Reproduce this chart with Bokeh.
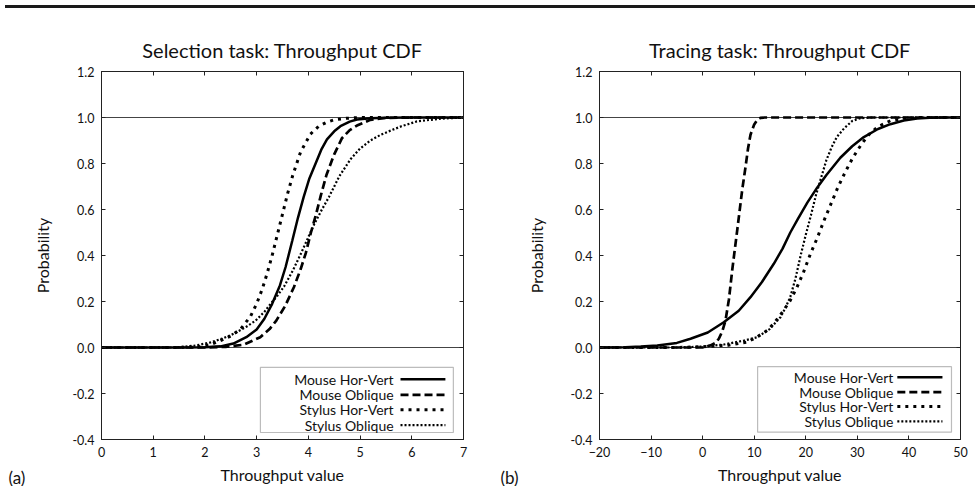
from bokeh.plotting import figure
from bokeh.models import Range1d, LinearAxis, FixedTicker, BoxAnnotation, Title, Div
from bokeh.layouts import row, column
from bokeh.embed import file_html
from bokeh.resources import INLINE
from bokeh.core.properties import value

FONT = "Lato"

series_names = ["Mouse Hor-Vert", "Mouse Oblique", "Stylus Hor-Vert", "Stylus Oblique"]

y_ticks = [-0.4, -0.2, 0.0, 0.2, 0.4, 0.6, 0.8, 1.0, 1.2]
y_tick_labels = ["-0.4", "-0.2", "0.0", "0.2", "0.4", "0.6", "0.8", "1.0", "1.2"]

# ---------------- (a) Selection task ----------------
sel_title = "Selection task: Throughput CDF"
sel_xticks = [0, 1, 2, 3, 4, 5, 6, 7]

sel_mouse_hv_x = [0, 1.5, 2.0, 2.3, 2.55, 2.8, 3.0, 3.15, 3.3, 3.45, 3.56, 3.69, 3.8, 3.91,
                  4.02, 4.14, 4.25, 4.36, 4.5, 4.62, 4.8, 4.94, 5.2, 5.5, 6.0, 7.0]
sel_mouse_hv_y = [0, 0, 0.001, 0.005, 0.017, 0.045, 0.078, 0.125, 0.19, 0.27, 0.35, 0.465, 0.565, 0.655,
                  0.735, 0.80, 0.86, 0.905, 0.94, 0.962, 0.982, 0.991, 0.997, 0.999, 1.0, 1.0]

sel_mouse_ob_x = [0, 2.0, 2.4, 2.75, 3.07, 3.25, 3.38, 3.55, 3.72, 3.85, 3.95, 4.05, 4.15, 4.24,
                  4.35, 4.5, 4.65, 4.8, 4.94, 5.2, 5.5, 6.0, 7.0]
sel_mouse_ob_y = [0, 0, 0.003, 0.012, 0.045, 0.08, 0.117, 0.18, 0.262, 0.34, 0.41, 0.50, 0.58, 0.66,
                  0.75, 0.84, 0.91, 0.945, 0.965, 0.99, 0.998, 1.0, 1.0]

sel_stylus_hv_x = [0, 1.5, 1.9, 2.1, 2.3, 2.5, 2.69, 2.88, 3.0, 3.11, 3.2, 3.3, 3.4, 3.5, 3.6, 3.7,
                   3.85, 4.04, 4.2, 4.36, 4.5, 4.7, 5.0, 7.0]
sel_stylus_hv_y = [0, 0, 0.004, 0.012, 0.03, 0.05, 0.08, 0.135, 0.19, 0.255, 0.32, 0.40, 0.49, 0.58, 0.67, 0.75,
                   0.85, 0.928, 0.962, 0.98, 0.99, 0.996, 1.0, 1.0]

sel_stylus_ob_x = [0, 1.4, 1.8, 2.11, 2.35, 2.56, 2.8, 2.98, 3.15, 3.27, 3.4, 3.53, 3.7, 3.85, 4.0, 4.1,
                   4.25, 4.4, 4.6, 4.82, 5.0, 5.2, 5.4, 5.59, 5.8, 6.1, 6.56, 7.0]
sel_stylus_ob_y = [0, 0, 0.008, 0.022, 0.04, 0.06, 0.09, 0.117, 0.155, 0.19, 0.225, 0.265, 0.335, 0.405, 0.48, 0.53,
                   0.595, 0.655, 0.745, 0.82, 0.865, 0.90, 0.925, 0.943, 0.962, 0.983, 0.995, 1.0]

# ---------------- (b) Tracing task ----------------
tr_title = "Tracing task: Throughput CDF"
tr_xticks = [-20, -10, 0, 10, 20, 30, 40, 50]

tr_mouse_hv_x = [-20, -15, -12, -8.8, -5, -2.35, 1, 4.1, 7, 9.28, 11.5, 13.8, 15.5, 17.0, 18.5, 20.3,
                 22.2, 24, 26.7, 29, 31.25, 34, 36.4, 39, 41.6, 44, 47, 50]
tr_mouse_hv_y = [0, 0.001, 0.004, 0.009, 0.02, 0.038, 0.065, 0.11, 0.16, 0.219, 0.285, 0.364, 0.43, 0.5, 0.56, 0.63,
                 0.695, 0.75, 0.825, 0.875, 0.915, 0.95, 0.971, 0.987, 0.996, 0.999, 1.0, 1.0]

tr_mouse_ob_x = [-20, 0, 1.52, 2.5, 3.14, 3.8, 4.43, 5.1, 5.73, 6.2, 6.7, 7.2, 7.7, 8.31, 8.8, 9.28,
                 10.0, 10.6, 11.2, 12, 50]
tr_mouse_ob_y = [0, 0, 0.009, 0.02, 0.038, 0.07, 0.117, 0.21, 0.335, 0.42, 0.509, 0.60, 0.69, 0.784, 0.865, 0.925,
                 0.97, 0.99, 0.998, 1.0, 1.0]

tr_stylus_hv_x = [-20, -5, 0.9, 5, 8.6, 10.5, 12.5, 14, 15.7, 17, 18.3, 19.6, 20.9, 22.2, 23.5, 24.8, 26.2,
                  27.7, 29, 29.95, 31, 32.2, 34, 36.4, 39.6, 42, 50]
tr_stylus_hv_y = [0, 0, 0.004, 0.01, 0.023, 0.045, 0.074, 0.11, 0.161, 0.205, 0.262, 0.33, 0.407, 0.475, 0.55, 0.62, 0.695,
                  0.765, 0.82, 0.855, 0.89, 0.925, 0.96, 0.986, 0.998, 1.0, 1.0]

tr_stylus_ob_x = [-20, -5, 0, 4.1, 8, 10.6, 13, 15.1, 16, 17, 18, 19, 20, 21, 22, 23, 24, 25, 26,
                  27.4, 29, 30.6, 33, 50]
tr_stylus_ob_y = [0, 0, 0.004, 0.013, 0.03, 0.045, 0.08, 0.132, 0.17, 0.22, 0.30, 0.40, 0.49, 0.575, 0.665, 0.74,
                  0.815, 0.87, 0.915, 0.952, 0.985, 0.997, 1.0, 1.0]

# styles for the four series
line_styles = [
    dict(line_width=2.5, line_dash="solid"),
    dict(line_width=2.7, line_dash="8 4"),
    dict(line_width=3, line_dash="3 5"),
    dict(line_width=2.2, line_dash="2 2"),
]


def make_panel(title, xr, xticks, series, border_left, border_right, ylabel_standoff, tag, tag_x,
               legend_frac, fw):
    fh = 368
    p = figure(frame_width=fw, frame_height=fh,
               x_range=Range1d(*xr), y_range=Range1d(-0.4, 1.2),
               output_backend="svg", toolbar_location=None, title=title,
               min_border_left=border_left, min_border_right=border_right,
               min_border_top=58, min_border_bottom=46,
               background_fill_color="white", border_fill_color="white")
    p.title.align = "center"
    p.title.text_font = FONT
    p.title.text_font_size = "20px"
    p.title.text_font_style = "normal"
    p.title.text_color = "#111111"
    p.title.standoff = 19
    p.outline_line_color = "#222222"
    p.outline_line_width = 1

    # axes
    p.xaxis.ticker = FixedTicker(ticks=xticks)
    p.yaxis.ticker = FixedTicker(ticks=y_ticks)
    p.yaxis.major_label_overrides = {t: s for t, s in zip(y_ticks, y_tick_labels)}
    for ax in (p.xaxis[0], p.yaxis[0]):
        ax.major_tick_in = 4
        ax.major_tick_out = 0
        ax.minor_tick_line_color = None
        ax.axis_line_color = "#222222"
        ax.major_tick_line_color = "#222222"
        ax.major_label_text_font = FONT
        ax.major_label_text_font_size = "12.5px"
        ax.major_label_text_color = "#111111"
        ax.axis_label_text_font = FONT
        ax.axis_label_text_font_style = "normal"
        ax.axis_label_text_font_size = "16px"
        ax.axis_label_text_color = "#111111"
    p.xaxis.axis_label = "Throughput value"
    p.yaxis.axis_label = "Probability"
    p.xaxis.major_label_standoff = 7
    p.xaxis.axis_label_standoff = 5
    p.yaxis.major_label_standoff = 7
    p.yaxis.axis_label_standoff = ylabel_standoff

    top = LinearAxis(ticker=FixedTicker(ticks=xticks))
    rgt = LinearAxis(ticker=FixedTicker(ticks=y_ticks))
    for ax in (top, rgt):
        ax.major_tick_in = 4
        ax.major_tick_out = 0
        ax.minor_tick_line_color = None
        ax.axis_line_color = "#222222"
        ax.major_tick_line_color = "#222222"
        ax.major_label_text_font_size = "1px"
        ax.major_label_text_color = None
        ax.major_label_standoff = 0
    p.add_layout(top, "above")
    p.add_layout(rgt, "right")

    p.xgrid.visible = False
    p.ygrid.ticker = FixedTicker(ticks=[0, 1])
    p.ygrid.grid_line_color = "#444444"
    p.ygrid.grid_line_width = 1

    for (xs, ys), st in zip(series, line_styles):
        p.line(xs, ys, line_color="black", **st)

    # legend (label then sample, as in the original)
    x0, x1 = xr
    fx = lambda f: x0 + f * (x1 - x0)
    fy = lambda f: -0.4 + f * 1.6
    bl, br, bb, bt, tx, s0, s1, rows = legend_frac
    p.add_layout(BoxAnnotation(left=fx(bl), right=fx(br), bottom=fy(bb), top=fy(bt),
                               fill_color="white", fill_alpha=1.0,
                               line_color="#222222", line_width=1.2))
    for name, st, r in zip(series_names, line_styles, rows):
        p.text(x=[fx(tx)], y=[fy(r)], text=[name], text_font=value(FONT),
               text_font_size="14px", text_align="right", text_baseline="middle",
               text_color="#111111", level="overlay")
        p.line([fx(s0), fx(s1)], [fy(r), fy(r)], line_color="black", level="overlay", **st)

    # panel tag "(a)" / "(b)" at the bottom-left corner, outside the frame
    tag_title = Title(text=tag, align="left", offset=tag_x, standoff=-40,
                      vertical_align="top",
                      text_font=FONT, text_font_size="17px", text_font_style="normal",
                      text_color="#111111")
    p.add_layout(tag_title, "below")
    return p


sel_series = [(sel_mouse_hv_x, sel_mouse_hv_y), (sel_mouse_ob_x, sel_mouse_ob_y),
              (sel_stylus_hv_x, sel_stylus_hv_y), (sel_stylus_ob_x, sel_stylus_ob_y)]
tr_series = [(tr_mouse_hv_x, tr_mouse_hv_y), (tr_mouse_ob_x, tr_mouse_ob_y),
             (tr_stylus_hv_x, tr_stylus_hv_y), (tr_stylus_ob_x, tr_stylus_ob_y)]

legend_a = (0.439, 0.972, 0.019, 0.196, 0.807, 0.826, 0.950, [0.164, 0.121, 0.081, 0.039])
legend_b = (0.438, 0.975, 0.020, 0.198, 0.814, 0.825, 0.950, [0.169, 0.129, 0.090, 0.049])

p1 = make_panel(sel_title, (0, 7), sel_xticks, sel_series, 101, 24, 17, "(a)", -93, legend_a, 362)
p2 = make_panel(tr_title, (-20, 50), tr_xticks, tr_series, 112, 14, 21, "(b)", -99, legend_b, 361)

line_div = Div(text="", width=974, height=3, styles={"background-color": "#1a1a1a"})
layout = column(line_div, row(p1, p2))

open("out.html", "w").write(file_html(layout, INLINE))
